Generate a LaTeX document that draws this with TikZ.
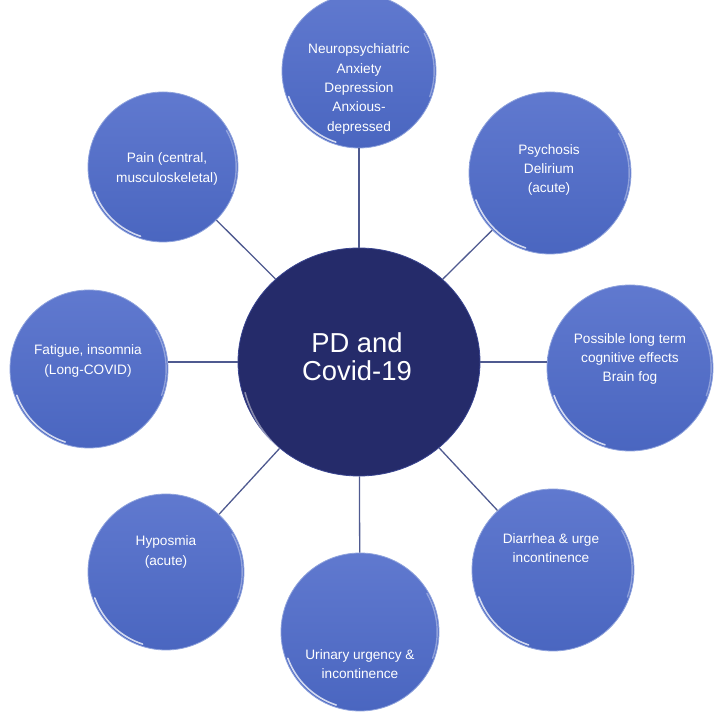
\documentclass[tikz,border=0pt]{standalone}
\usepackage{fontspec}
\setmainfont{Liberation Sans}
\usetikzlibrary{shapes.geometric}
\definecolor{satTop}{HTML}{6079CF}
\definecolor{satBot}{HTML}{4A66C0}
\definecolor{satEdge}{HTML}{8EA2DC}
\definecolor{mainFill}{HTML}{252B6A}
\definecolor{mainEdge}{HTML}{3A4590}
\definecolor{linkC}{HTML}{4F5A90}
\tikzset{
  sat/.style={circle, inner sep=0pt, draw=satEdge, line width=0.8bp, top color=satTop, bottom color=satBot},
  mainc/.style={ellipse, inner sep=0pt, draw=mainEdge, line width=0.8bp, fill=mainFill},
  sattext/.style={text=white, align=center, inner sep=0pt, font=\fontsize{13.7}{19.5}\selectfont},
  maintext/.style={text=white, align=center, inner sep=0pt, font=\fontsize{27.5}{28}\selectfont},
  link/.style={draw=linkC, line width=1.3bp},
  hl/.style={draw=white, opacity=0.75, line width=1.6bp, line cap=round},
  hlsoft/.style={draw=white, opacity=0.35, line width=1.4bp, line cap=round},
}
% name, x, y, r
\newcommand\satnode[4]{%
  \node[sat, minimum size={2*#4bp}] (#1) at (#2,#3) {};
  \draw[hl] ([shift={(200:{#4bp-2.2bp})}]#1.center) arc[start angle=200, end angle=252, radius={#4bp-2.2bp}];
  \draw[hlsoft] ([shift={(-20:{#4bp-1.8bp})}]#1.center) arc[start angle=-20, end angle=30, radius={#4bp-1.8bp}];
}
\begin{document}
\begin{tikzpicture}[x=1bp, y=1bp]
\useasboundingbox (0,0) rectangle (715,715);
\clip (0,0) rectangle (715,715);

% central node
\node[mainc, minimum width=242bp, minimum height=228bp] (c) at (359,353) {};
\draw[draw=white, opacity=0.45, line width=1.6bp, line cap=round]
  ([shift={(195:{118bp})}]c.center) arc[start angle=195, end angle=245, radius={118bp}];

% satellites
\satnode{neu}{359}{644}{77}
\satnode{psy}{550}{542}{81}
\satnode{pos}{630}{347}{83}
\satnode{dia}{553}{145}{81}
\satnode{uri}{360}{83}{79}
\satnode{hyp}{166}{143}{78}
\satnode{fat}{89}{346}{79}
\satnode{pain}{163}{548}{75}

% connectors
\draw[link] (c) -- (neu);
\draw[link] (c) -- (psy);
\draw[link] (c.east) -- (c.east -| pos.west);
\draw[link] (c) -- (dia);
\draw[link] (c) -- (uri);
\draw[link] (c) -- (hyp);
\draw[link] (c.west) -- (c.west -| fat.east);
\draw[link] (c) -- (pain);

% texts
\node[maintext] (ct) at (357,358) {PD and\\Covid-19};
\node[sattext] (neut) at (359,626) {Neuropsychiatric\\Anxiety\\Depression\\Anxious-\\depressed};
\node[sattext] (psyt) at (549,545) {Psychosis\\Delirium\\(acute)};
\node[sattext] (post) at (630,356) {Possible long term\\cognitive effects\\Brain fog};
\node[sattext] (diat) at (551,167) {Diarrhea \& urge\\incontinence};
\node[sattext] (urit) at (360,51) {Urinary urgency \&\\incontinence};
\node[sattext] (hypt) at (166,163) {Hyposmia\\(acute)};
\node[sattext] (fatt) at (88,354) {Fatigue, insomnia\\(Long-COVID)};
\node[sattext] (paint) at (167,546) {Pain (central,\\musculoskeletal)};
\end{tikzpicture}
\end{document}
